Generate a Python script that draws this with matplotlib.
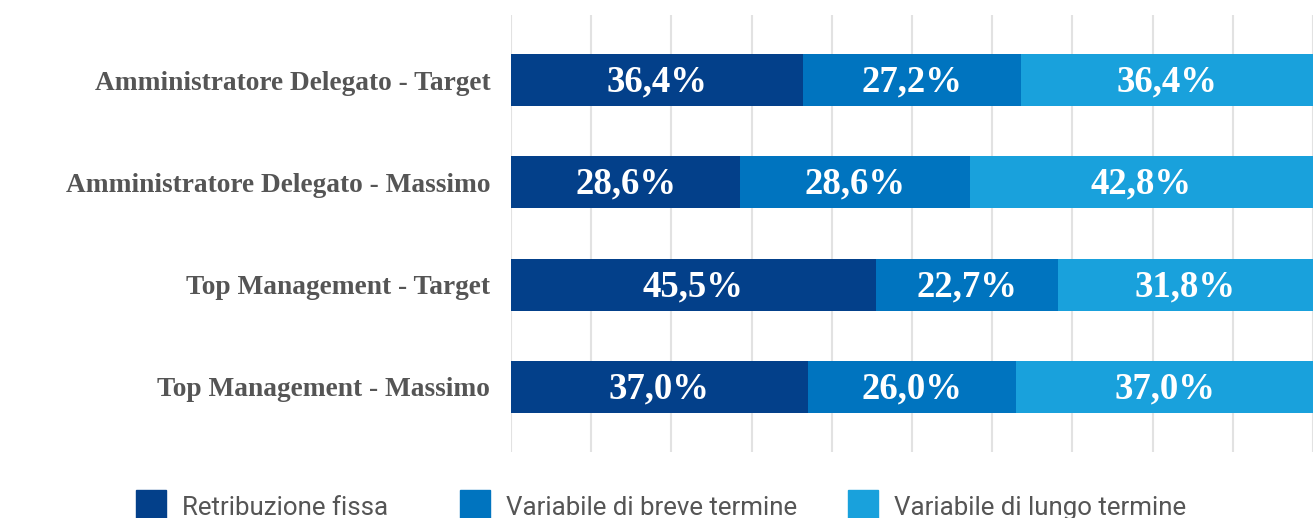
import numpy as np
import matplotlib.pyplot as plt
from matplotlib.patches import Rectangle

# Data
categories = ["Amministratore Delegato - Target",
              "Amministratore Delegato - Massimo",
              "Top Management - Target",
              "Top Management - Massimo"]
fissa = [36.4, 28.6, 45.5, 37.0]
breve = [27.2, 28.6, 22.7, 26.0]
lungo = [36.4, 42.8, 31.8, 37.0]
series_names = ["Retribuzione fissa", "Variabile di breve termine", "Variabile di lungo termine"]
colors = ["#03408a", "#0074bf", "#19a1dc"]

fig = plt.figure(figsize=(13.16, 5.18), dpi=100)
ax = fig.add_axes([511 / 1316, 1 - 452 / 518, 802 / 1316, 437 / 518])

y = np.arange(len(categories))
left = np.zeros(len(categories))
for vals, col in zip([fissa, breve, lungo], colors):
    bars = ax.barh(y, vals, left=left, height=0.51, color=col, zorder=3)
    for b, v in zip(bars, vals):
        ax.text(b.get_x() + b.get_width() / 2, b.get_y() + b.get_height() / 2 + 0.02,
                f"{v:.1f}%".replace(".", ","), ha="center", va="center",
                color="white", fontsize=26.5, fontweight="bold",
                family="Liberation Serif", zorder=4)
    left += np.array(vals)

ax.set_xlim(0, 100)
ax.set_ylim(3.637, -0.637)
ax.set_xticks(np.arange(0, 101, 10))
ax.grid(axis="x", color="#e2e2e2", linewidth=1.5, zorder=0)
ax.tick_params(axis="both", length=0)
ax.set_xticklabels([])
ax.set_yticks(y)
ax.set_yticklabels(categories, fontsize=19.7, fontweight="bold",
                   family="Liberation Serif", color="#555555")
ax.tick_params(axis="y", pad=15)
for s in ax.spines.values():
    s.set_visible(False)

# legend
leg_x = [136, 460, 848]
for lx, name, col in zip(leg_x, series_names, colors):
    fig.patches.append(Rectangle((lx / 1316, 0), 30 / 1316, 28 / 518,
                                 transform=fig.transFigure, color=col))
    fig.text((lx + 46) / 1316, 3 / 518, name, fontsize=18.6, family="Roboto",
             color="#555555", ha="left", va="baseline")

fig.savefig("out.png", dpi=100)
